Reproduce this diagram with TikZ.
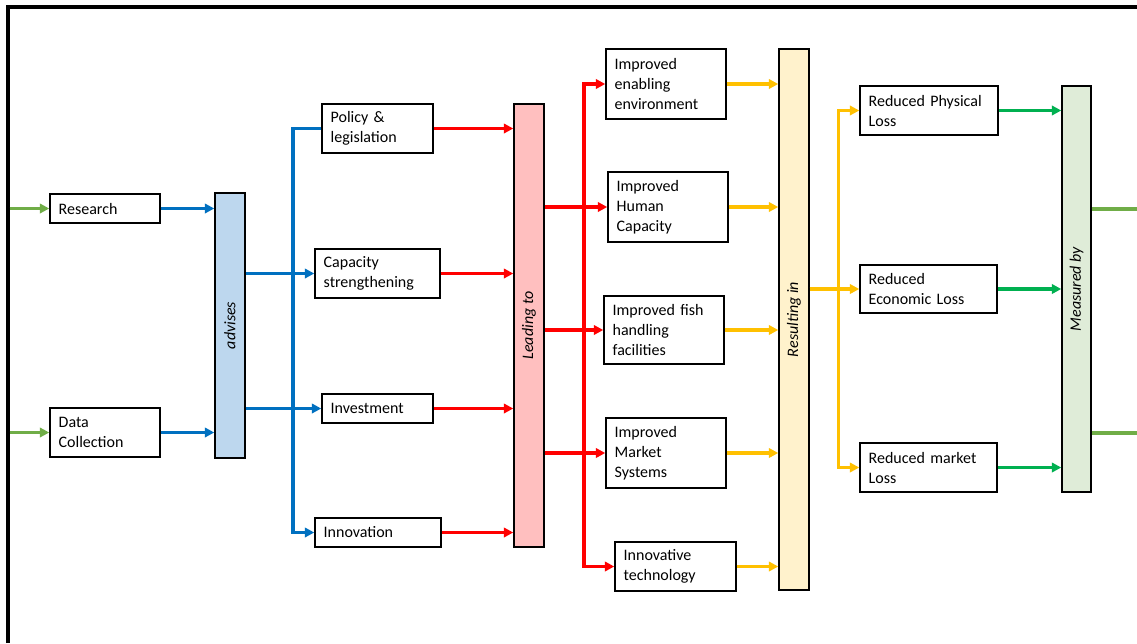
\documentclass[tikz,border=0pt]{standalone}
\usepackage{fontspec}
\setmainfont{Carlito}
\usetikzlibrary{arrows.meta}
\definecolor{cblue}{HTML}{0070C0}
\definecolor{cred}{HTML}{FF0000}
\definecolor{cyel}{HTML}{FFC000}
\definecolor{cgreen}{HTML}{00B050}
\definecolor{colive}{HTML}{70AD47}
\definecolor{fadv}{HTML}{BDD7EE}
\definecolor{flead}{HTML}{FFBFBF}
\definecolor{fres}{HTML}{FFF2CC}
\definecolor{fmeas}{HTML}{DFECD8}

% text box given by its corners (x1,y1) (x2,y2) in pixel units
\newcommand\txtbox[6]{%
  \pgfmathsetmacro\boxwd{(#4-#2)*0.75}%
  \pgfmathsetmacro\boxht{(#5-#3)*0.75}%
  \pgfmathsetmacro\boxtw{\boxwd-13}%
  \node[box,minimum width=\boxwd pt,minimum height=\boxht pt,text width=\boxtw pt]
    (#1) at ({(#2+#4)/2},{(#3+#5)/2}) {#6};}
% tall coloured bar with a rotated italic label
\newcommand\tallbar[7]{%
  \pgfmathsetmacro\boxwd{(#4-#2)*0.75}%
  \pgfmathsetmacro\boxht{(#5-#3)*0.75}%
  \node[bar,fill=#6,minimum width=\boxwd pt,minimum height=\boxht pt]
    (#1) at ({(#2+#4)/2},{(#3+#5)/2}) {};
  \node[barlabel] (#1-lbl) at (#1) {#7};}

\begin{document}
\begin{tikzpicture}[x=0.75pt,y=-0.75pt,
  box/.style={draw=black,line width=1.1pt,fill=white,align=left,
    inner xsep=6.5pt,inner ysep=0pt,font=\fontsize{12}{15}\selectfont},
  bar/.style={draw=black,line width=1.1pt,inner sep=0pt},
  barlabel/.style={rotate=90,inner sep=0pt,font=\fontsize{12}{15}\selectfont\itshape},
  link/.style={line width=2.4pt},
  tipA/.tip={Triangle[length=7pt,width=7pt]},
  arr/.style={link,-tipA},
  arrs/.style={link,tipA-tipA},
]
\useasboundingbox (0,0) rectangle (1137,643);

% outer frame
\draw[line width=3pt,line join=miter] (7.5,643) -- (7.5,7) -- (1137,7);

% inputs
\txtbox{res}{50}{194}{160}{223}{Research}
\txtbox{dat}{50}{408}{160}{457}{Data\\Collection}
\tallbar{adv}{215}{193}{245}{458}{fadv}{advises}

% interventions
\txtbox{pol}{322}{104}{433}{153}{Policy \&\\legislation}
\txtbox{cap}{315}{249}{440}{298}{Capacity\\strengthening}
\txtbox{inv}{322}{394}{433}{423}{Investment}
\txtbox{inn}{315}{518}{441}{547}{Innovation}
\tallbar{lead}{514}{104}{544}{547}{flead}{Leading to}

% outcomes
\txtbox{env}{606}{49}{726}{119}{Improved\\enabling\\environment}
\txtbox{hum}{608}{172}{728}{242}{Improved\\Human\\Capacity}
\txtbox{fish}{604}{296}{724}{364}{Improved fish\\handling\\facilities}
\txtbox{mkt}{606}{418}{726}{488}{Improved\\Market\\Systems}
\txtbox{tec}{615}{542}{736}{591}{Innovative\\technology}
\tallbar{resl}{779}{49}{809}{590}{fres}{Resulting in}

% impacts
\txtbox{phy}{860}{86}{998}{135}{Reduced Physical\\Loss}
\txtbox{eco}{860}{265}{997}{313}{Reduced\\Economic Loss}
\txtbox{mkl}{860}{443}{997}{492}{Reduced market\\Loss}
\tallbar{meas}{1062}{86}{1091}{492}{fmeas}{Measured by}

% free ends and bus lines
\coordinate (inA) at (9.5,208.5);
\coordinate (inB) at (9.5,432.5);
\coordinate (outA) at (1137,209);
\coordinate (outB) at (1137,433);
\coordinate (bbus) at (293,300);
\coordinate (rbus) at (584,300);
\coordinate (ybus) at (838.5,300);

% green inputs
\draw[arr,colive] (inA) -- (res.west);
\draw[arr,colive] (inB) -- (dat.west);

% blue: advises
\draw[arr,cblue] (res.east) -- (res.east -| adv.west);
\draw[arr,cblue] (dat.east) -- (dat.east -| adv.west);
\draw[arr,cblue] (adv.east |- cap.west) -- (cap.west);
\draw[arr,cblue] (adv.east |- inv.west) -- (inv.west);
\draw[arr,cblue] (pol.west) -| (bbus |- inn.west) -- (inn.west);

% red: leading to
\foreach \n in {pol,cap,inv,inn}
  \draw[arr,cred] (\n.east) -- (\n.east -| lead.west);
\foreach \n in {hum,fish,mkt}
  \draw[arr,cred] (lead.east |- \n.west) -- (\n.west);
\draw[arrs,cred] (env.west) -| (rbus) |- (tec.west);

% yellow: resulting in
\foreach \n in {env,hum,fish,mkt,tec}
  \draw[arr,cyel] (\n.east) -- (\n.east -| resl.west);
\draw[arr,cyel] (resl.east |- eco.west) -- (eco.west);
\draw[arrs,cyel] (phy.west) -| (ybus) |- (mkl.west);

% green: measured by
\foreach \n in {phy,eco,mkl}
  \draw[arr,cgreen] (\n.east) -- (\n.east -| meas.west);
\draw[link,colive] (meas.east |- outA) -- (outA);
\draw[link,colive] (meas.east |- outB) -- (outB);
\end{tikzpicture}
\end{document}
